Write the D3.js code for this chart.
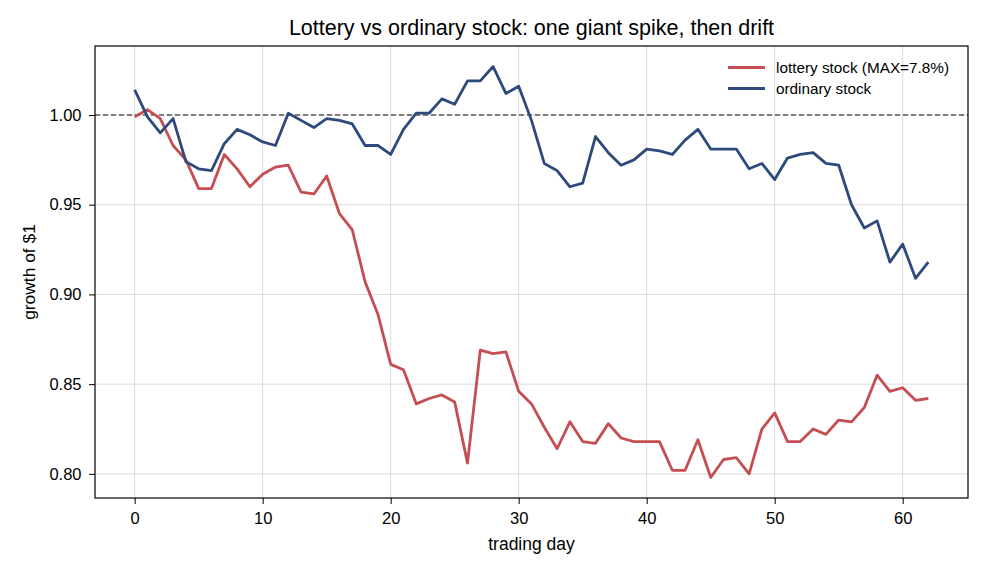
<!DOCTYPE html>
<html>
<head>
<meta charset="utf-8">
<script src="https://cdn.jsdelivr.net/npm/d3@7"></script>
<style>
  html, body { margin: 0; padding: 0; background: #fff; }
  svg { display: block; font-family: "Liberation Sans", Arial, sans-serif; }
</style>
</head>
<body>
<div id="chart"></div>
<script>
// growth of $1, day 0..62
const DAYS = d3.range(0, 63);
const LOTTERY = [
  0.999, 1.003, 0.998, 0.983, 0.975, 0.959, 0.959, 0.978, 0.970, 0.960,
  0.967, 0.971, 0.972, 0.957, 0.956, 0.966, 0.945, 0.936, 0.907, 0.889,
  0.861, 0.858, 0.839, 0.842, 0.844, 0.840, 0.806, 0.869, 0.867, 0.868,
  0.846, 0.839, 0.826, 0.814, 0.829, 0.818, 0.817, 0.828, 0.820, 0.818,
  0.818, 0.818, 0.802, 0.802, 0.819, 0.798, 0.808, 0.809, 0.800, 0.825,
  0.834, 0.818, 0.818, 0.825, 0.822, 0.830, 0.829, 0.837, 0.855, 0.846,
  0.848, 0.841, 0.842
];
const ORDINARY = [
  1.014, 0.999, 0.990, 0.998, 0.974, 0.970, 0.969, 0.984, 0.992, 0.989,
  0.985, 0.983, 1.001, 0.997, 0.993, 0.998, 0.997, 0.995, 0.983, 0.983,
  0.978, 0.992, 1.001, 1.001, 1.009, 1.006, 1.019, 1.019, 1.027, 1.012,
  1.016, 0.997, 0.973, 0.969, 0.960, 0.962, 0.988, 0.979, 0.972, 0.975,
  0.981, 0.980, 0.978, 0.986, 0.992, 0.981, 0.981, 0.981, 0.970, 0.973,
  0.964, 0.976, 0.978, 0.979, 0.973, 0.972, 0.950, 0.937, 0.941, 0.918,
  0.928, 0.909, 0.918
];
const SERIES = [
  { name: 'lottery stock (MAX=7.8%)', values: LOTTERY, color: '#c44e52' },
  { name: 'ordinary stock', values: ORDINARY, color: '#2e4a7d' },
];
const X_TICKS = [0, 10, 20, 30, 40, 50, 60];
const Y_TICKS = [0.80, 0.85, 0.90, 0.95, 1.00];

const W = 988, H = 572;
const m = { t: 46, r: 20, b: 74, l: 95 };
const FONT = '"Liberation Sans", Arial, sans-serif';

const svg = d3.select('#chart').append('svg')
  .attr('width', W).attr('height', H);

// matplotlib-style 5% padding on both axes
const allVals = LOTTERY.concat(ORDINARY);
const yMin = d3.min(allVals), yMax = d3.max(allVals);
const yPad = (yMax - yMin) * 0.05;
const xPad = 62 * 0.05;

const x = d3.scaleLinear().domain([-xPad, 62 + xPad]).range([m.l, W - m.r]);
const y = d3.scaleLinear().domain([yMin - yPad, yMax + yPad]).range([H - m.b, m.t]);

// grid
const grid = svg.append('g');
grid.selectAll('line.v').data(X_TICKS).join('line')
  .attr('x1', d => x(d)).attr('x2', d => x(d))
  .attr('y1', m.t).attr('y2', H - m.b)
  .attr('stroke', '#dcdcdc').attr('stroke-width', 1);
grid.selectAll('line.h').data(Y_TICKS).join('line')
  .attr('x1', m.l).attr('x2', W - m.r)
  .attr('y1', d => y(d)).attr('y2', d => y(d))
  .attr('stroke', '#dcdcdc').attr('stroke-width', 1);

// reference line at $1
svg.append('line')
  .attr('x1', m.l).attr('x2', W - m.r)
  .attr('y1', y(1)).attr('y2', y(1))
  .attr('stroke', '#555').attr('stroke-width', 1.4)
  .attr('stroke-dasharray', '5 3');

// lines
const line = d3.line().x((d, i) => x(DAYS[i])).y(d => y(d));
svg.append('g').selectAll('path').data(SERIES).join('path')
  .attr('fill', 'none')
  .attr('stroke', d => d.color)
  .attr('stroke-width', 2.8)
  .attr('stroke-linejoin', 'round')
  .attr('d', d => line(d.values));

// axes
const xAxis = svg.append('g').attr('transform', `translate(0,${H - m.b})`)
  .call(d3.axisBottom(x).tickValues(X_TICKS).tickSize(6).tickSizeOuter(0).tickPadding(8.5));
const yAxis = svg.append('g').attr('transform', `translate(${m.l},0)`)
  .call(d3.axisLeft(y).tickValues(Y_TICKS).tickFormat(d3.format('.2f')).tickSize(6).tickSizeOuter(0).tickPadding(7.5));
[xAxis, yAxis].forEach(g => {
  g.select('.domain').remove();
  g.selectAll('text').attr('font-size', 16.5).attr('fill', '#000')
    .attr('font-family', FONT);
  g.selectAll('line').attr('stroke', '#000');
});

// frame
svg.append('rect')
  .attr('x', m.l).attr('y', m.t)
  .attr('width', W - m.r - m.l).attr('height', H - m.b - m.t)
  .attr('fill', 'none').attr('stroke', '#000').attr('stroke-width', 1.2);

// titles
svg.append('text').attr('x', (m.l + W - m.r) / 2).attr('y', 35)
  .attr('text-anchor', 'middle').attr('font-size', 21.5).attr('fill', '#000')
  .text('Lottery vs ordinary stock: one giant spike, then drift');
svg.append('text').attr('x', (m.l + W - m.r) / 2).attr('y', 550)
  .attr('text-anchor', 'middle').attr('font-size', 17.5).attr('fill', '#000')
  .text('trading day');
svg.append('text').attr('transform', `translate(35,${(m.t + H - m.b) / 2}) rotate(-90)`)
  .attr('text-anchor', 'middle').attr('font-size', 17.4).attr('fill', '#000')
  .text('growth of $1');

// legend
const leg = svg.append('g').attr('transform', 'translate(728,67.5)');
SERIES.forEach((s, i) => {
  const g = leg.append('g').attr('transform', `translate(0,${i * 21})`);
  g.append('line').attr('x1', 0).attr('x2', 37).attr('y1', 0).attr('y2', 0)
    .attr('stroke', s.color).attr('stroke-width', 2.8);
  g.append('text').attr('x', 48).attr('y', 0).attr('dy', '0.35em')
    .attr('font-size', 15.3).attr('fill', '#000').text(s.name);
});
</script>
</body>
</html>
